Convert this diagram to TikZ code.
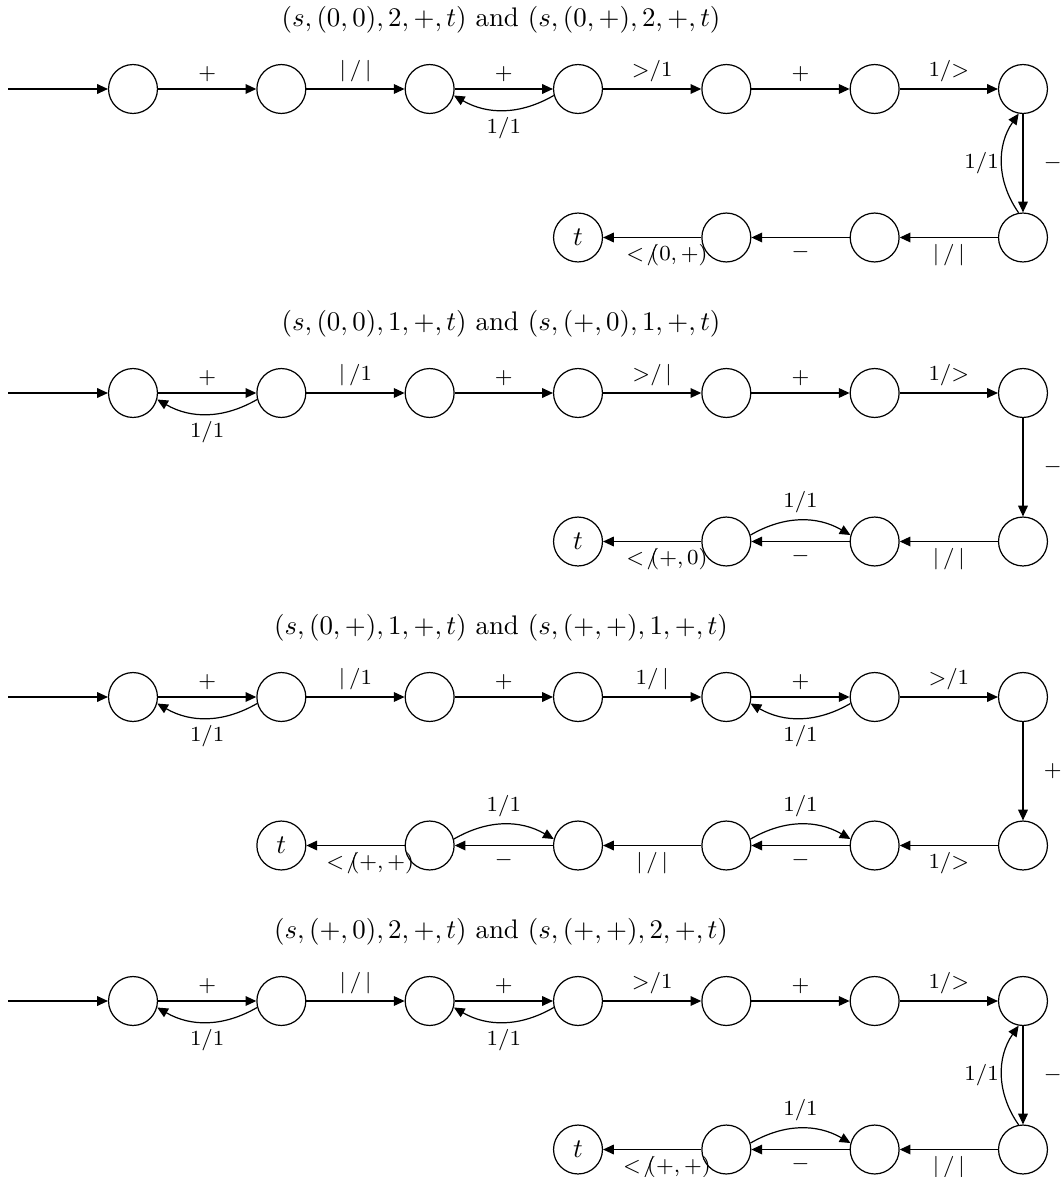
\documentclass[tikz,border=0pt]{standalone}
\usetikzlibrary{arrows.meta}
\begin{document}
\begin{tikzpicture}[x=0.372pt,y=0.372pt,
  st/.style={circle,draw,line width=0.45pt,minimum size=18.2pt,inner sep=0pt},
  e/.style={-{Triangle[length=4pt,width=3.6pt]},line width=0.45pt},
  lb/.style={font=\fontsize{8.5}{10}\selectfont,inner sep=2.5pt},
  ttl/.style={font=\normalsize,inner sep=0pt}]
\useasboundingbox (0,0) rectangle (1060,-1177);

% top rows
\foreach \r/\y in {1/89,2/393,3/697,4/1001}{
  \foreach \c in {1,...,7}{
    \node[st] (r\r a\c) at ({133+148.33*(\c-1)},-\y) {};
  }
  \coordinate (in\r) at (8,-\y);
}
% bottom rows
\foreach \r/\y in {1/237.5,2/541.5,4/1149.5}{
  \foreach \c in {5,6,7}{
    \node[st] (r\r b\c) at ({133+148.33*(\c-1)},-\y) {};
  }
  \node[st] (r\r b4) at (578,-\y) {$t$};
}
\foreach \c in {3,...,7}{
  \node[st] (r3b\c) at ({133+148.33*(\c-1)},-845.5) {};
}
\node[st] (r3b2) at (281.33,-845.5) {$t$};

% titles
\node[ttl] (t1) at (501,-20) {$(s,(0,0),2,+,t)$ and $(s,(0,+),2,+,t)$};
\node[ttl] (t2) at (501,-324) {$(s,(0,0),1,+,t)$ and $(s,(+,0),1,+,t)$};
\node[ttl] (t3) at (501,-628) {$(s,(0,+),1,+,t)$ and $(s,(+,+),1,+,t)$};
\node[ttl] (t4) at (501,-932) {$(s,(+,0),2,+,t)$ and $(s,(+,+),2,+,t)$};

% ---------- row 1
\draw[e] (in1) -- (r1a1);
\draw[e] (r1a1) -- node[lb,above]{$+$} (r1a2);
\draw[e] (r1a2) -- node[lb,above]{$|\,/\,|$} (r1a3);
\draw[e] (r1a3) -- node[lb,above]{$+$} (r1a4);
\draw[e] (r1a4.195) to[bend left=30] node[lb,below]{$1/1$} (r1a3.-15);
\draw[e] (r1a4) -- node[lb,above]{${>}/1$} (r1a5);
\draw[e] (r1a5) -- node[lb,above]{$+$} (r1a6);
\draw[e] (r1a6) -- node[lb,above]{$1/{>}$} (r1a7);
\draw[e] (r1a7) -- node[lb,right,xshift=5pt]{$-$} (r1b7);
\draw[e] (r1b7.100) to[bend left=35] node[lb,left,inner sep=1pt]{$1/1$} (r1a7.260);
\draw[e] (r1b7) -- node[lb,below]{$|\,/\,|$} (r1b6);
\draw[e] (r1b6) -- node[lb,below]{$-$} (r1b5);
\draw[e] (r1b5) -- node[lb,below,pos=.35]{$<\!/\!\!(0,+)$} (r1b4);

% ---------- row 2
\draw[e] (in2) -- (r2a1);
\draw[e] (r2a1) -- node[lb,above]{$+$} (r2a2);
\draw[e] (r2a2.195) to[bend left=30] node[lb,below]{$1/1$} (r2a1.-15);
\draw[e] (r2a2) -- node[lb,above]{$|\,/1$} (r2a3);
\draw[e] (r2a3) -- node[lb,above]{$+$} (r2a4);
\draw[e] (r2a4) -- node[lb,above]{${>}/\,|$} (r2a5);
\draw[e] (r2a5) -- node[lb,above]{$+$} (r2a6);
\draw[e] (r2a6) -- node[lb,above]{$1/{>}$} (r2a7);
\draw[e] (r2a7) -- node[lb,right,xshift=5pt]{$-$} (r2b7);
\draw[e] (r2b7) -- node[lb,below]{$|\,/\,|$} (r2b6);
\draw[e] (r2b6) -- node[lb,below]{$-$} (r2b5);
\draw[e] (r2b5.15) to[bend left=30] node[lb,above]{$1/1$} (r2b6.165);
\draw[e] (r2b5) -- node[lb,below,pos=.35]{$<\!/\!\!(+,0)$} (r2b4);

% ---------- row 3
\draw[e] (in3) -- (r3a1);
\draw[e] (r3a1) -- node[lb,above]{$+$} (r3a2);
\draw[e] (r3a2.195) to[bend left=30] node[lb,below]{$1/1$} (r3a1.-15);
\draw[e] (r3a2) -- node[lb,above]{$|\,/1$} (r3a3);
\draw[e] (r3a3) -- node[lb,above]{$+$} (r3a4);
\draw[e] (r3a4) -- node[lb,above]{$1/\,|$} (r3a5);
\draw[e] (r3a5) -- node[lb,above]{$+$} (r3a6);
\draw[e] (r3a6.195) to[bend left=30] node[lb,below]{$1/1$} (r3a5.-15);
\draw[e] (r3a6) -- node[lb,above]{${>}/1$} (r3a7);
\draw[e] (r3a7) -- node[lb,right,xshift=5pt]{$+$} (r3b7);
\draw[e] (r3b7) -- node[lb,below]{$1/{>}$} (r3b6);
\draw[e] (r3b6) -- node[lb,below]{$-$} (r3b5);
\draw[e] (r3b5.15) to[bend left=30] node[lb,above]{$1/1$} (r3b6.165);
\draw[e] (r3b5) -- node[lb,below]{$|\,/\,|$} (r3b4);
\draw[e] (r3b4) -- node[lb,below]{$-$} (r3b3);
\draw[e] (r3b3.15) to[bend left=30] node[lb,above]{$1/1$} (r3b4.165);
\draw[e] (r3b3) -- node[lb,below,pos=.35]{$<\!/\!\!(+,+)$} (r3b2);

% ---------- row 4
\draw[e] (in4) -- (r4a1);
\draw[e] (r4a1) -- node[lb,above]{$+$} (r4a2);
\draw[e] (r4a2.195) to[bend left=30] node[lb,below]{$1/1$} (r4a1.-15);
\draw[e] (r4a2) -- node[lb,above]{$|\,/\,|$} (r4a3);
\draw[e] (r4a3) -- node[lb,above]{$+$} (r4a4);
\draw[e] (r4a4.195) to[bend left=30] node[lb,below]{$1/1$} (r4a3.-15);
\draw[e] (r4a4) -- node[lb,above]{${>}/1$} (r4a5);
\draw[e] (r4a5) -- node[lb,above]{$+$} (r4a6);
\draw[e] (r4a6) -- node[lb,above]{$1/{>}$} (r4a7);
\draw[e] (r4a7) -- node[lb,right,xshift=5pt]{$-$} (r4b7);
\draw[e] (r4b7.100) to[bend left=35] node[lb,left,inner sep=1pt]{$1/1$} (r4a7.260);
\draw[e] (r4b7) -- node[lb,below]{$|\,/\,|$} (r4b6);
\draw[e] (r4b6) -- node[lb,below]{$-$} (r4b5);
\draw[e] (r4b5.15) to[bend left=30] node[lb,above]{$1/1$} (r4b6.165);
\draw[e] (r4b5) -- node[lb,below,pos=.35]{$<\!/\!\!(+,+)$} (r4b4);
\end{tikzpicture}
\end{document}
